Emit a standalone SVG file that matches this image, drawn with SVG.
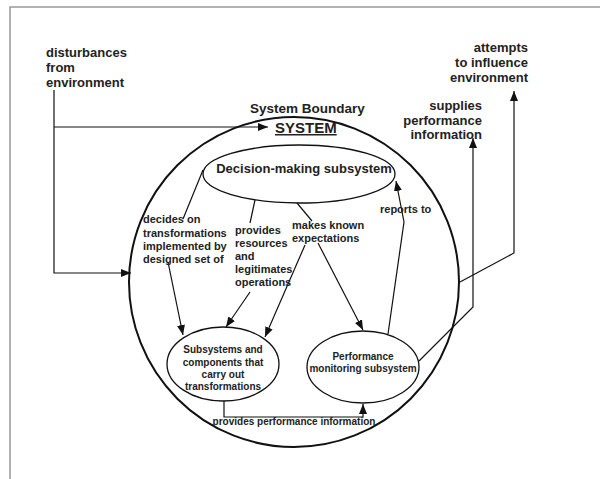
<svg xmlns="http://www.w3.org/2000/svg" width="600" height="479" viewBox="0 0 600 479">
  <style>
    text { font-family: "Liberation Sans", Arial, sans-serif; font-weight: bold; fill: #222; }
    .lbl { font-size: 13px; }
    .mid { font-size: 11px; }
    .node { font-size: 10px; }
    .shape { fill: none; stroke: #111; stroke-width: 1.3; }
    .conn { fill: none; stroke: #111; stroke-width: 1.2; }
  </style>
  <defs>
    <marker id="arrow" markerUnits="userSpaceOnUse" markerWidth="10" markerHeight="8" refX="10" refY="4" orient="auto">
      <path d="M0,0 L10,4 L0,8 z" fill="#111"/>
    </marker>
  </defs>

  <rect width="600" height="479" fill="#fff"/>
  <!-- page frame -->
  <rect x="10" y="7" width="600" height="480" fill="none" stroke="#999" stroke-width="1.5"/>

  <!-- environment labels -->
  <g id="disturbances">
    <text class="lbl" x="46" y="57">disturbances</text>
    <text class="lbl" x="46" y="72">from</text>
    <text class="lbl" x="46" y="87">environment</text>
  </g>
  <g id="attempts">
    <text class="lbl" x="528" y="52" text-anchor="end">attempts</text>
    <text class="lbl" x="528" y="67" text-anchor="end">to influence</text>
    <text class="lbl" x="528" y="82" text-anchor="end">environment</text>
  </g>
  <g id="supplies">
    <text class="lbl" x="482" y="110" text-anchor="end">supplies</text>
    <text class="lbl" x="482" y="125" text-anchor="end">performance</text>
    <text class="lbl" x="482" y="139" text-anchor="end">information</text>
  </g>

  <!-- system boundary -->
  <g id="system">
    <circle cx="294" cy="282" r="165" fill="none" stroke="#111" stroke-width="2"/>
    <text x="250" y="113" style="font-size:13.5px">System Boundary</text>
    <text x="275" y="133" style="font-size:15px" text-decoration="underline">SYSTEM</text>
  </g>

  <g id="decision">
    <ellipse class="shape" cx="299" cy="174" rx="96" ry="29"/>
    <text x="304" y="173" style="font-size:13px" text-anchor="middle">Decision-making subsystem</text>
  </g>

  <g id="transform">
    <ellipse class="shape" cx="223" cy="364" rx="56" ry="37"/>
    <text class="node" x="223" y="353" text-anchor="middle">Subsystems and</text>
    <text class="node" x="223" y="366" text-anchor="middle">components that</text>
    <text class="node" x="223" y="378" text-anchor="middle">carry out</text>
    <text class="node" x="223" y="390" text-anchor="middle">transformations</text>
  </g>

  <g id="monitor">
    <ellipse class="shape" cx="363" cy="367" rx="56" ry="36"/>
    <text class="node" x="363" y="360" text-anchor="middle">Performance</text>
    <text class="node" x="363" y="372" text-anchor="middle">monitoring subsystem</text>
  </g>

  <!-- connectors -->
  <g id="connectors">
    <path class="conn" d="M54,90 V273 H131" marker-end="url(#arrow)"/>
    <path class="conn" d="M54,127 H268" marker-end="url(#arrow)"/>
    <path class="conn" d="M460,282 L514,253 V91" marker-end="url(#arrow)"/>
    <path class="conn" d="M419,361 L473,307 V138" marker-end="url(#arrow)"/>
    <path class="conn" d="M203,170 L183,219"/>
    <path class="conn" d="M168,262 L183,335" marker-end="url(#arrow)"/>
    <path class="conn" d="M255,200 L250,223"/>
    <path class="conn" d="M250,292 L226,327" marker-end="url(#arrow)"/>
    <path class="conn" d="M297,203 L312,221"/>
    <path class="conn" d="M305,245 L265,337" marker-end="url(#arrow)"/>
    <path class="conn" d="M318,243 L363,330" marker-end="url(#arrow)"/>
    <path class="conn" d="M388,334 L404,222 L396,181" marker-end="url(#arrow)"/>
    <path class="conn" d="M224,401 V417 H363 V404" marker-end="url(#arrow)"/>
  </g>

  <!-- connector labels -->
  <g id="labels">
    <text class="mid" x="143" y="223">decides on</text>
    <text class="mid" x="143" y="237">transformations</text>
    <text class="mid" x="143" y="250">implemented by</text>
    <text class="mid" x="143" y="263">designed set of</text>
    <text class="mid" x="235" y="234">provides</text>
    <text class="mid" x="235" y="247">resources</text>
    <text class="mid" x="235" y="260">and</text>
    <text class="mid" x="235" y="273">legitimates</text>
    <text class="mid" x="235" y="286">operations</text>
    <text class="mid" x="292" y="229">makes known</text>
    <text class="mid" x="292" y="242">expectations</text>
    <text class="mid" x="380" y="213">reports to</text>
    <text class="node" x="294" y="425" text-anchor="middle">provides performance information</text>
  </g>
</svg>
